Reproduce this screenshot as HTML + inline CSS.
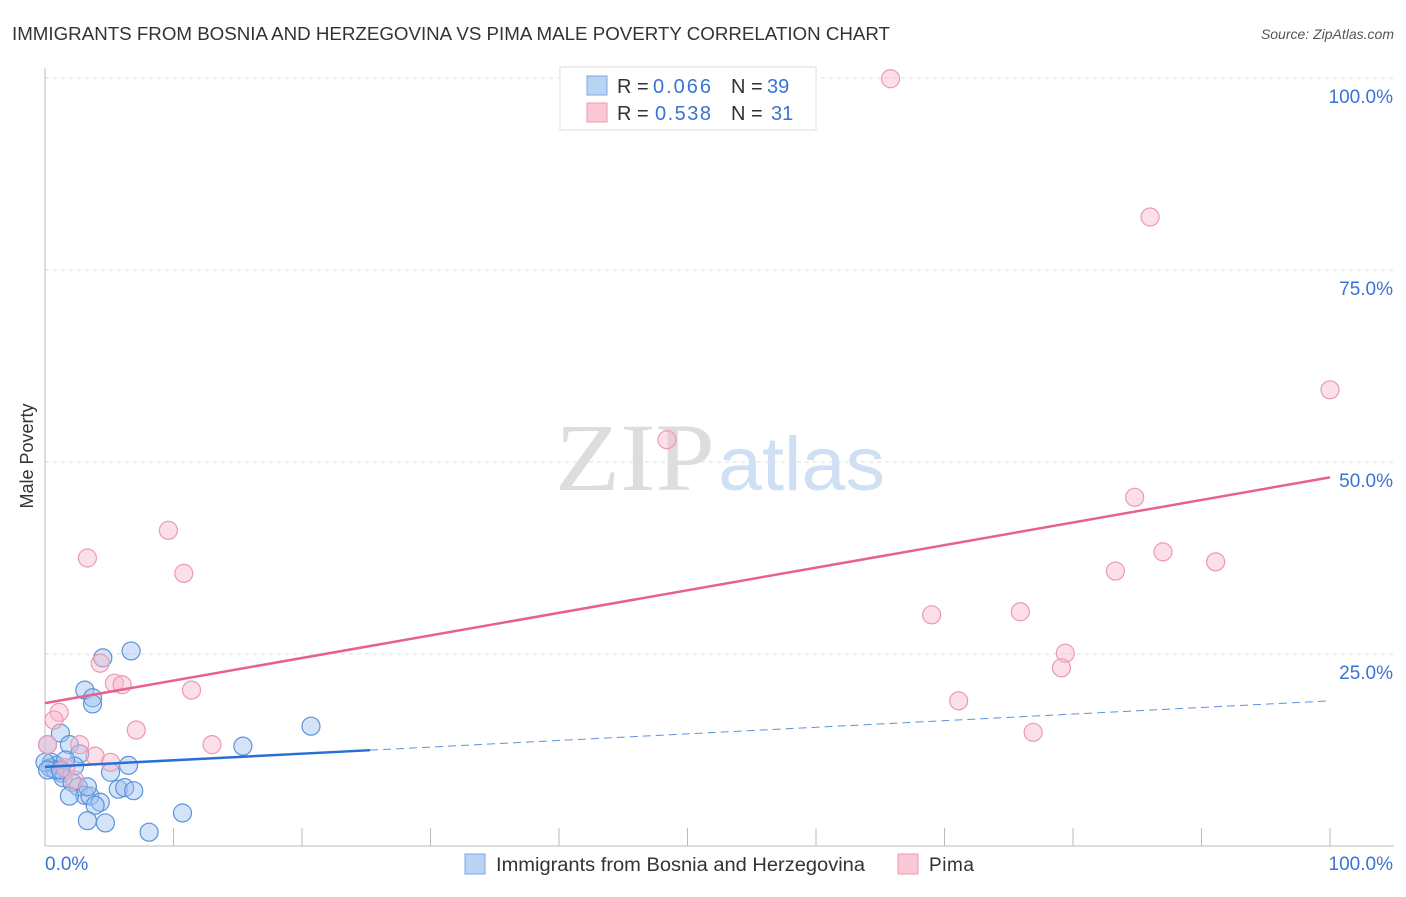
<!DOCTYPE html>
<html><head><meta charset="utf-8"><style>
body{margin:0;background:#fff;font-family:"Liberation Sans",sans-serif;}
</style></head><body>
<svg width="1406" height="892" xmlns="http://www.w3.org/2000/svg" font-family="Liberation Sans, sans-serif">
<text x="12" y="40" font-size="18" fill="#333" textLength="878" lengthAdjust="spacingAndGlyphs">IMMIGRANTS FROM BOSNIA AND HERZEGOVINA VS PIMA MALE POVERTY CORRELATION CHART</text>
<text x="1394" y="39" font-size="14" fill="#555" font-style="italic" text-anchor="end">Source: ZipAtlas.com</text>
<text x="33" y="456" font-size="18" fill="#333" transform="rotate(-90 33 456)" text-anchor="middle">Male Poverty</text>
<g><text x="555" y="490" font-size="96" fill="#ddd" font-family="Liberation Serif, serif" textLength="160" lengthAdjust="spacingAndGlyphs">ZIP</text><text x="718" y="490" font-size="76" fill="#cfe0f4" textLength="167" lengthAdjust="spacingAndGlyphs">atlas</text></g>
<g id="grid"></g>
<g id="axes"></g>
<g id="marks"></g>
<g font-size="20">
<rect x="560" y="67" width="256" height="63" fill="#fff" stroke="#ddd"/>
<rect x="587" y="76" width="20" height="19" fill="#b9d3f5" stroke="#7aa8e3"/>
<text x="617" y="93" fill="#333">R =</text>
<text x="653" y="93" fill="#3b73d3" textLength="58">0.066</text>
<text x="731" y="93" fill="#333">N =</text>
<text x="767" y="93" fill="#3b73d3">39</text>
<rect x="587" y="103" width="20" height="19" fill="#fbc8d6" stroke="#ec99b1"/>
<text x="617" y="120" fill="#333">R =</text>
<text x="655" y="120" fill="#3b73d3" textLength="56">0.538</text>
<text x="731" y="120" fill="#333">N =</text>
<text x="771" y="120" fill="#3b73d3">31</text>
</g>
<g>
<rect x="465" y="854" width="20" height="20" fill="#b9d3f5" stroke="#7aa8e3"/>
<text x="496" y="871" font-size="19" fill="#333" textLength="369" lengthAdjust="spacingAndGlyphs">Immigrants from Bosnia and Herzegovina</text>
<rect x="898" y="854" width="20" height="20" fill="#fbc8d6" stroke="#ec99b1"/>
<text x="929" y="871" font-size="19" fill="#333" textLength="45">Pima</text>
</g>
</svg>
<script>
const blueX=[6.7,4.5,3.1,3.7,3.7,1.2,1.9,0.2,2.7,0.5,0.9,0.4,1.3,2.3,5.1,6.5,1.4,2.1,2.6,3.1,3.5,1.9,4.3,3.9,5.7,6.2,6.9,3.3,4.7,8.1,10.7,15.4,20.7,0.8,0.0,0.2,1.6,3.3,1.2];
const blueY=[25.4,24.5,20.3,19.3,18.5,14.7,13.2,13.2,12.0,10.9,10.5,10.2,9.5,10.4,9.6,10.5,8.9,8.3,7.7,6.6,6.5,6.5,5.7,5.3,7.4,7.6,7.2,3.3,3.0,1.8,4.3,13.0,15.6,9.9,10.9,9.9,11.2,7.7,9.9];
const pinkX=[65.8,86.0,100,48.4,84.8,9.6,3.3,10.8,87.0,91.1,83.3,69.0,75.9,79.4,79.1,4.3,5.4,6.0,11.4,71.1,1.1,0.7,7.1,76.9,13.0,2.7,3.9,5.1,0.2,1.6,2.3];
const pinkY=[99.9,81.9,59.4,52.9,45.4,41.1,37.5,35.5,38.3,37.0,35.8,30.1,30.5,25.1,23.2,23.8,21.2,21.0,20.3,18.9,17.4,16.4,15.1,14.8,13.2,13.2,11.7,10.9,13.2,10.2,8.6];
const blueTrend=[10.3,18.9];
const blueSolidEnd=25.3;
const pinkTrend=[18.6,48.0];
const yTicks=[25,50,75,100];
const yTickLabels=["25.0%","50.0%","75.0%","100.0%"];
const xTicks=[0,10,20,30,40,50,60,70,80,90,100];
const NS="http://www.w3.org/2000/svg";
const sx=v=>45+v*12.85, sy=v=>846-v*7.68;
function mk(tag,attrs,parent){const e=document.createElementNS(NS,tag);for(const k in attrs)e.setAttribute(k,attrs[k]);document.getElementById(parent).appendChild(e);return e;}
yTicks.forEach((t,i)=>{
 const g=mk('line',{x1:45,x2:1394,y1:sy(t),y2:sy(t),stroke:'#ddd','stroke-dasharray':'4,4'},'grid');
 
 
 const l=mk('text',{x:1393,y:sy(t)+25,'font-size':19,fill:'#3b73d3','text-anchor':'end'},'axes');
 l.textContent=yTickLabels[i];
 
 
});
let a=mk('line',{x1:45,x2:45,y1:68,y2:846,stroke:'#bbb'},'axes');


a=mk('line',{x1:45,x2:1394,y1:846,y2:846,stroke:'#bbb'},'axes');


xTicks.forEach(t=>{const e=mk('line',{x1:sx(t),x2:sx(t),y1:828,y2:846,stroke:'#bbb'},'axes');
 
 });
[["0.0%",45,'start'],["100.0%",1393,'end']].forEach(d=>{const e=mk('text',{x:d[1],y:870,'font-size':19,fill:'#3b73d3','text-anchor':d[2]},'axes');e.textContent=d[0];
 
 });
blueX.forEach((x,i)=>{const c=mk('circle',{cx:sx(x),cy:sy(blueY[i]),r:9,fill:'rgba(160,196,240,0.45)',stroke:'#5b93db','stroke-width':1.2},'marks');
 
 });
pinkX.forEach((x,i)=>{const c=mk('circle',{cx:sx(x),cy:sy(pinkY[i]),r:9,fill:'rgba(248,184,204,0.45)',stroke:'#ec99b1','stroke-width':1.2},'marks');
 
 });
const by=x=>blueTrend[0]+(blueTrend[1]-blueTrend[0])*x/100;
let t=mk('line',{x1:sx(0),y1:sy(by(0)),x2:sx(blueSolidEnd),y2:sy(by(blueSolidEnd)),stroke:'#2a6fd6','stroke-width':2.5},'marks');


t=mk('line',{x1:sx(blueSolidEnd),y1:sy(by(blueSolidEnd)),x2:sx(100),y2:sy(by(100)),stroke:'#5b93db','stroke-width':1,'stroke-dasharray':'8,5'},'marks');


t=mk('line',{x1:sx(0),y1:sy(pinkTrend[0]),x2:sx(100),y2:sy(pinkTrend[1]),stroke:'#e8608e','stroke-width':2.5},'marks');


</script>
</body></html>
